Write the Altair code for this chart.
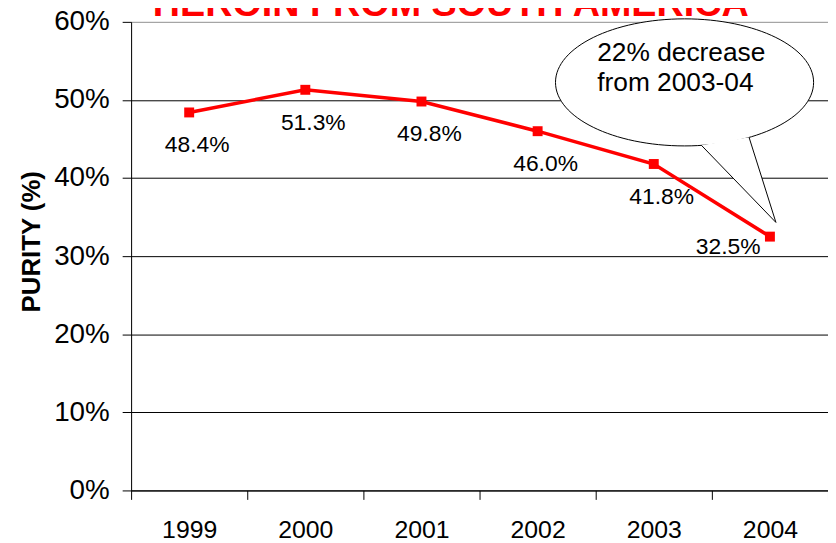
import altair as alt
import pandas as pd

# ---- data ----
years = ["1999", "2000", "2001", "2002", "2003", "2004"]
purity = [48.4, 51.3, 49.8, 46.0, 41.8, 32.5]
y_ticks = [0, 10, 20, 30, 40, 50, 60]
title_text = ["HEROIN FROM SOUTH AMERICA"]
y_title = "PURITY (%)"
callout_lines = ["22% decrease", "from 2003-04"]
callout_year = ["2003"]
callout_bubble_value = [52.25]
callout_text_value = [56.0]

FONT = "Liberation Sans"
RED = "#FF0000"

df = pd.DataFrame({"year": years, "purity": purity})
df["label"] = [f"{v:.1f}%" for v in purity]
bubble_df = pd.DataFrame({"year": callout_year, "purity": callout_bubble_value})
btext_df = pd.DataFrame({"year": callout_year, "purity": callout_text_value})
title_df = pd.DataFrame({"t": title_text})

# speech-bubble outline (unit paths, scaled by the symbol size)
ellipse_path = ("M 1 0 C 1 -0.2719 0.5523 -0.4923 0 -0.4923 "
                "C -0.5523 -0.4923 -1 -0.2719 -1 0 "
                "C -1 0.2719 -0.5523 0.4923 0 0.4923 "
                "C 0.5523 0.4923 1 0.2719 1 0 Z")
tail_path = "M 0.131 0.488 L 0.708 1.085 L 0.5 0.426"

x_scale = alt.Scale(type="band", domain=years, paddingInner=0, paddingOuter=0)
y_scale = alt.Scale(domain=[0, 60], nice=False)

x_axis = alt.Axis(
    title=None, grid=False, tickBand="extent", labelAngle=0, labelAlign="center",
    domainColor="black", tickColor="black", tickSize=9,
    labelFont=FONT, labelFontSize=25, labelColor="black", labelPadding=30,
)
y_axis = alt.Axis(
    values=y_ticks, labelExpr="datum.value + '%'", grid=True,
    gridColor={"condition": {"test": "datum.value === 60", "value": "#999999"}, "value": "black"},
    domainColor="black", tickColor="black", tickSize=9,
    labelFont=FONT, labelFontSize=28, labelColor="black", labelPadding=13,
    title=y_title, titleFont=FONT, titleFontSize=26, titleFontWeight="bold",
    titleColor="black", titleAngle=-90, titleAlign="center", titleBaseline="middle",
    titleX=-100, titleY=221,
)

x_enc = alt.X("year:N", scale=x_scale, sort=years)
y_enc = alt.Y("purity:Q", scale=y_scale)

base = alt.Chart(df).encode(
    x=alt.X("year:N", scale=x_scale, axis=x_axis, sort=years),
    y=alt.Y("purity:Q", scale=y_scale, axis=y_axis),
)

bubble = alt.Chart(bubble_df).mark_point(
    shape=ellipse_path, size=67600, filled=True, fill="white", stroke="black",
    strokeWidth=1, opacity=1, xOffset=31,
).encode(x=x_enc, y=y_enc)

tail = alt.Chart(bubble_df).mark_point(
    shape=tail_path, size=67600, filled=True, fill="white", stroke="black",
    strokeWidth=1, opacity=1, xOffset=31,
).encode(x=x_enc, y=y_enc)

bubble_text = alt.Chart(btext_df).mark_text(
    text=callout_lines, align="left", baseline="middle", dx=-57,
    font=FONT, fontSize=26.5, lineHeight=30, color="black",
).encode(x=x_enc, y=y_enc)

line = base.mark_line(color=RED, strokeWidth=3.5)
points = base.mark_square(size=100, color=RED, opacity=1, filled=True)

labels_main = base.transform_filter(
    alt.datum.year != years[-1]
).mark_text(dx=8, dy=33, font=FONT, fontSize=23, color="black", baseline="middle").encode(
    text="label:N"
)
labels_last = base.transform_filter(
    alt.datum.year == years[-1]
).mark_text(dx=-42, dy=11, font=FONT, fontSize=23, color="black", baseline="middle").encode(
    text="label:N"
)

title = alt.Chart(title_df).mark_text(
    font=FONT, fontSize=38, fontWeight="bold", color=RED,
    align="center", baseline="alphabetic",
).encode(
    text="t:N", x=alt.value(322), y=alt.value(-6)
)

chart = alt.layer(
    bubble, tail, line, points, labels_main, labels_last, bubble_text, title
).properties(
    width=702,
    height=472,
    autosize=alt.AutoSizeParams(type="none"),
    padding={"left": 124, "top": 12, "right": 0, "bottom": 52},
).configure_view(
    stroke="#999999", strokeWidth=2
).configure(background="white")

chart.save("out.html", embed_options={"renderer": "svg", "actions": False})
